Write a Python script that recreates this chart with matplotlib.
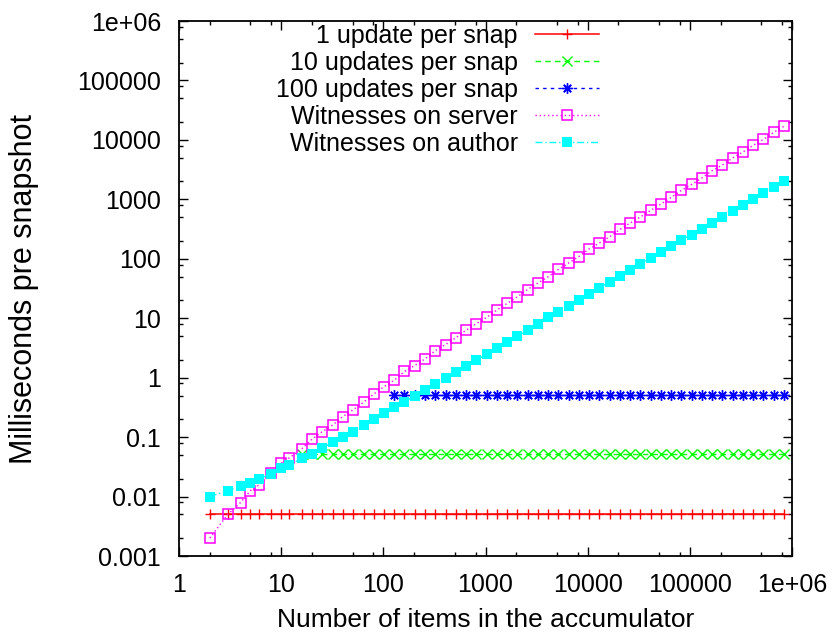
import matplotlib
matplotlib.use("Agg")
import matplotlib.pyplot as plt
from matplotlib.ticker import FixedLocator, FixedFormatter, LogLocator, NullFormatter

plt.rcParams['font.family'] = ['Liberation Sans', 'DejaVu Sans']

# Accumulator sizes (items)
items = [2, 3, 4, 5, 6, 8, 10, 12, 16, 20, 25, 32, 40,
         51, 64, 81, 102, 128, 161, 203, 256, 323, 406, 512, 645, 813, 1024,
         1290, 1625, 2048, 2580, 3251, 4096, 5161, 6502, 8192, 10321, 13004,
         16384, 20643, 26008, 32768,
         41285, 52016, 65536, 82570, 104032, 131072, 165140, 208064, 262144,
         330281, 416128, 524288, 660561, 832255]

# Milliseconds per snapshot
one_update = [0.005, 0.005, 0.005, 0.005, 0.005, 0.005, 0.005, 0.005, 0.005, 0.005,
              0.005, 0.005, 0.005, 0.005, 0.005, 0.005, 0.005, 0.005, 0.005, 0.005,
              0.005, 0.005, 0.005, 0.005, 0.005, 0.005, 0.005, 0.005, 0.005, 0.005,
              0.005, 0.005, 0.005, 0.005, 0.005, 0.005, 0.005, 0.005, 0.005, 0.005,
              0.005, 0.005, 0.005, 0.005, 0.005, 0.005, 0.005, 0.005, 0.005, 0.005,
              0.005, 0.005, 0.005, 0.005, 0.005, 0.005]

ten_items = items[8:]
ten_updates = [0.052, 0.052, 0.052, 0.052, 0.052, 0.052, 0.052, 0.052, 0.052, 0.052,
               0.052, 0.052, 0.052, 0.052, 0.052, 0.052, 0.052, 0.052, 0.052, 0.052,
               0.052, 0.052, 0.052, 0.052, 0.052, 0.052, 0.052, 0.052, 0.052, 0.052,
               0.052, 0.052, 0.052, 0.052, 0.052, 0.052, 0.052, 0.052, 0.052, 0.052,
               0.052, 0.052, 0.052, 0.052, 0.052, 0.052, 0.052, 0.052]

hundred_items = items[17:]
hundred_updates = [0.51, 0.51, 0.51, 0.51, 0.51, 0.51, 0.51, 0.51, 0.51, 0.51,
                   0.51, 0.51, 0.51, 0.51, 0.51, 0.51, 0.51, 0.51, 0.51, 0.51,
                   0.51, 0.51, 0.51, 0.51, 0.51, 0.51, 0.51, 0.51, 0.51, 0.51,
                   0.51, 0.51, 0.51, 0.51, 0.51, 0.51, 0.51, 0.51, 0.51]

witness_server = [0.0020, 0.0050, 0.0079, 0.0126, 0.0155, 0.0247, 0.0364, 0.0447,
                  0.064, 0.092, 0.122, 0.160, 0.221,
                  0.290, 0.387, 0.534, 0.708, 0.906, 1.27, 1.60, 2.07, 2.86, 3.61,
                  4.68, 6.3, 8.1, 10.3,
                  13.7, 17.7, 22.9, 30.4, 39.0, 49.8, 66.1, 84.7, 109, 146, 184,
                  234, 311, 399, 504,
                  650, 834, 1076, 1412, 1782, 2284, 3030, 3776, 4955, 6252, 8073,
                  10190, 13370, 16870]

witness_author = [0.010, 0.0126, 0.0149, 0.0167, 0.0195, 0.0243, 0.030, 0.0336,
                  0.0447, 0.0527, 0.065, 0.082, 0.0995,
                  0.124, 0.158, 0.205, 0.255, 0.322, 0.387, 0.494, 0.623, 0.776,
                  0.98, 1.24, 1.56, 1.97, 2.49,
                  3.14, 3.96, 5.0, 6.3, 7.95, 10.6, 12.8, 16.2, 20.4, 25.8, 32.5,
                  41.0, 51.8, 65.3, 82.4,
                  104, 131, 166, 209, 254, 316, 399, 504, 635, 802, 1012, 1276,
                  1611, 2032]

series_labels = ["1 update per snap", "10 updates per snap", "100 updates per snap",
                 "Witnesses on server", "Witnesses on author"]

x_ticks = [1, 10, 100, 1000, 10000, 100000, 1000000]
x_tick_labels = ["1", "10", "100", "1000", "10000", "100000", "1e+06"]
y_ticks = [0.001, 0.01, 0.1, 1, 10, 100, 1000, 10000, 100000, 1000000]
y_tick_labels = ["0.001", "0.01", "0.1", "1", "10", "100", "1000", "10000",
                 "100000", "1e+06"]

FS = 18

fig = plt.figure(figsize=(8.35, 6.35), dpi=100)
ax = fig.add_axes([179 / 835, 1 - 556 / 635, 613 / 835, 535 / 635])

ax.plot(items, one_update, color='#ff0000', lw=1.1, ls='-',
        marker='+', ms=7, mew=1.0, label=series_labels[0])
ax.plot(ten_items, ten_updates, color='#00ff00', lw=1.0, ls=(0, (4, 3)),
        marker='x', ms=6.5, mew=1.0, label=series_labels[1])
ax.plot(hundred_items, hundred_updates, color='#0000ff', lw=1.0, ls=(0, (2.5, 3)),
        marker=(8, 2, 0), ms=7.5, mew=1.0, label=series_labels[2])
ax.plot(items, witness_server, color='#ff00ff', lw=1.0, ls=(0, (1, 2)),
        marker='s', ms=6.6, mew=1.1, mfc='none', label=series_labels[3])
ax.plot(items, witness_author, color='#00ffff', lw=1.0, ls=(0, (5, 2, 1, 2)),
        marker='s', ms=7.4, mew=0, mfc='#00ffff', label=series_labels[4])

ax.set_xscale('log')
ax.set_yscale('log')
ax.set_xlim(1, 1e6)
ax.set_ylim(0.001, 1e6)

ax.xaxis.set_major_locator(FixedLocator(x_ticks))
ax.xaxis.set_major_formatter(FixedFormatter(x_tick_labels))
ax.yaxis.set_major_locator(FixedLocator(y_ticks))
ax.yaxis.set_major_formatter(FixedFormatter(y_tick_labels))
ax.xaxis.set_minor_locator(LogLocator(base=10, subs=[2, 5, 8], numticks=50))
ax.yaxis.set_minor_locator(LogLocator(base=10, subs=[2, 5, 8], numticks=50))
ax.xaxis.set_minor_formatter(NullFormatter())
ax.yaxis.set_minor_formatter(NullFormatter())

ax.tick_params(which='both', direction='in', top=True, right=True,
               labelsize=FS, width=1.0, color='black')
ax.tick_params(which='major', length=6.5)
ax.tick_params(which='minor', length=3.2)
ax.tick_params(axis='x', which='major', pad=12)
ax.tick_params(axis='y', which='major', pad=13)

for sp in ax.spines.values():
    sp.set_linewidth(1.3)

ax.set_xlabel("Number of items in the accumulator", fontsize=19)
ax.set_ylabel("Milliseconds pre snapshot", fontsize=22)
ax.xaxis.set_label_coords(0.5, (556 - 620) / 535)
ax.xaxis.label.set_va('center')
ax.yaxis.set_label_coords((24 - 179) / 613, 0.5)
ax.yaxis.label.set_va('center')

leg = ax.legend(loc='upper right', bbox_to_anchor=(599 / 835, 1 - 24 / 635),
                bbox_transform=fig.transFigure, frameon=False, markerfirst=False,
                fontsize=FS, handlelength=2.55, handletextpad=0.7,
                labelspacing=0.12, borderpad=0, borderaxespad=0)

fig.savefig("out.png", dpi=100)
